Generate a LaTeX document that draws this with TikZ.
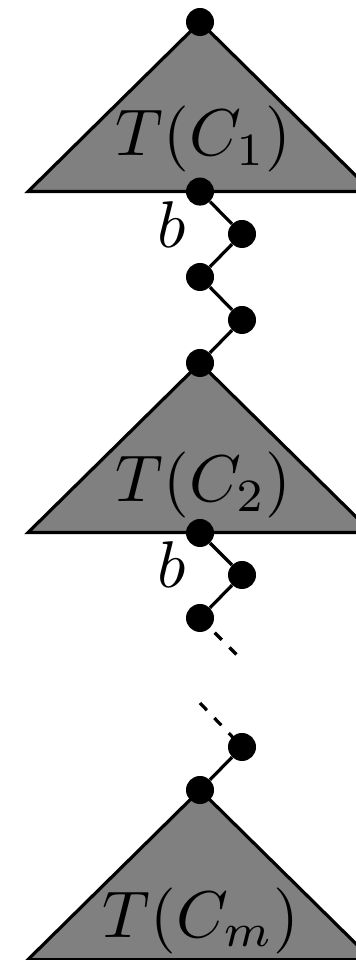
\documentclass[tikz,border=0pt]{standalone}
\usepackage{amsmath,amssymb}
\usepackage{tikz}
\usetikzlibrary{positioning,calc}
\tikzset{dot/.style={circle,fill=black,inner sep=0pt,minimum size=0.7cm},
  tree/.style={draw=black,fill=gray,line width=0.08cm,line join=miter},
  edge/.style={line width=0.08cm},
  dashedge/.style={line width=0.08cm,dash pattern=on 0.25cm off 0.27cm},
  lbl/.style={scale=4.7,inner sep=0pt}}

\begin{document}
\begin{tikzpicture}
\useasboundingbox (0,0) rectangle (8.9,24);
\clip (0,0) rectangle (8.9,24);
% subtrees
\foreach \y in {23.45,14.925,4.25}
  \filldraw[tree] (5,\y) -- ++(-4.3,-4.24) -- ++(8.6,0) -- cycle;
\node[lbl,anchor=base] (t1) at (5.09,20.1){$T(C_1)$};
\node[lbl,anchor=base] (t2) at (5.09,11.45){$T(C_2)$};
\node[lbl,anchor=base] (tm) at (5.03,0.575){$T(C_m)$};
% path between the subtrees
\node[dot] (r1) at (5,23.45){};
\node[dot] (v1) at (5,19.21){};
\node[dot] (z1) at (6.05,18.15){};
\node[dot] (z2) at (5,17.075){};
\node[dot] (z3) at (6.05,16.0){};
\node[dot] (r2) at (5,14.925){};
\node[dot] (v2) at (5,10.675){};
\node[dot] (z4) at (6.05,9.625){};
\node[dot] (z5) at (5,8.55){};
\coordinate (e1) at (6.05,7.5);
\coordinate (e2) at (5,6.425);
\node[dot] (z6) at (6.05,5.325){};
\node[dot] (r3) at (5,4.25){};
\draw[edge] (v1)--(z1)--(z2)--(z3)--(r2);
\draw[edge] (v2)--(z4)--(z5);
\draw[dashedge] (z5.center)--(e1);
\draw[dashedge] (e2)--(z6.center);
\draw[edge] (z6)--(r3);
\node[lbl,anchor=base] (b1) at (4.28,17.8){$b$};
\node[lbl,anchor=base] (b2) at (4.28,9.3){$b$};
\end{tikzpicture}
\end{document}
